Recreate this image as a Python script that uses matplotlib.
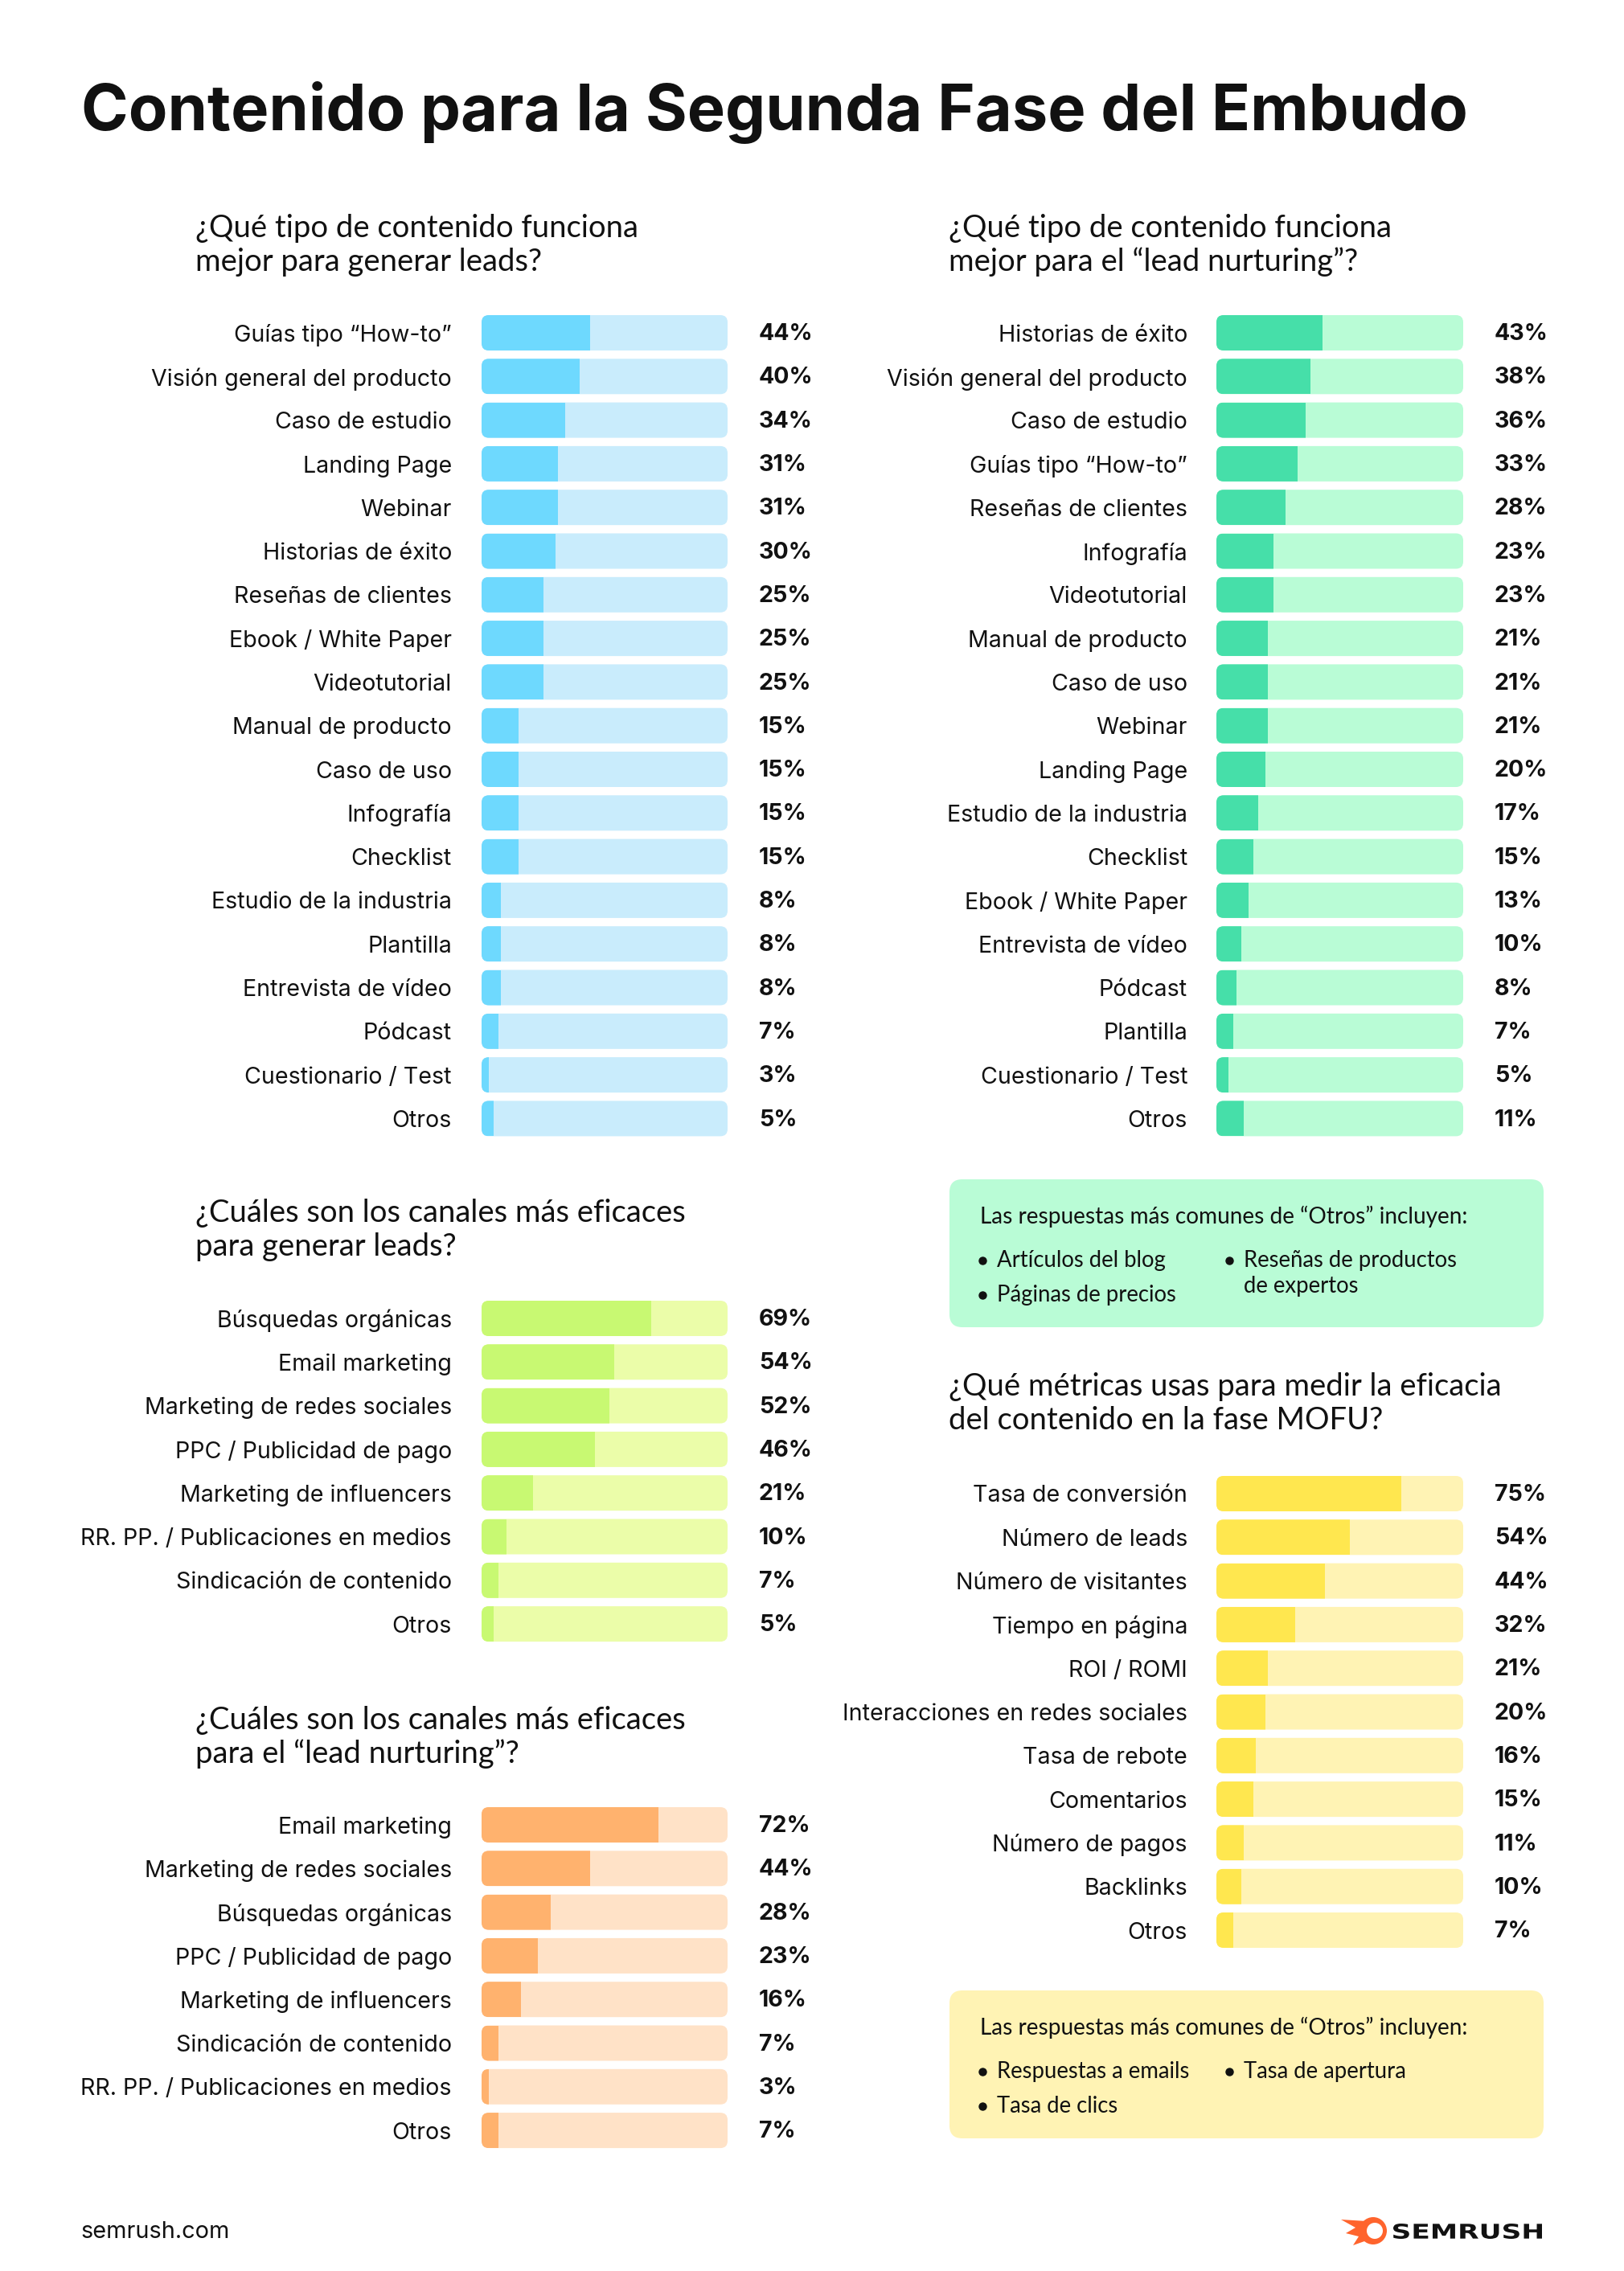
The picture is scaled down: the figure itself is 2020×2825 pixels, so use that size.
import matplotlib
matplotlib.use('Agg')
import matplotlib.pyplot as plt
from matplotlib.patches import FancyBboxPatch, Circle, Polygon, PathPatch
from matplotlib.textpath import TextPath
from matplotlib.font_manager import FontProperties
from matplotlib.transforms import Affine2D

# ── DATA ──────────────────────────────────────────────────────────────────────
content_leads_labels = ["Guías tipo “How-to”", "Visión general del producto", "Caso de estudio",
                        "Landing Page", "Webinar", "Historias de éxito", "Reseñas de clientes",
                        "Ebook / White Paper", "Videotutorial", "Manual de producto", "Caso de uso",
                        "Infografía", "Checklist", "Estudio de la industria", "Plantilla",
                        "Entrevista de vídeo", "Pódcast", "Cuestionario / Test", "Otros"]
content_leads_values = [44, 40, 34, 31, 31, 30, 25, 25, 25, 15, 15, 15, 15, 8, 8, 8, 7, 3, 5]

content_nurt_labels = ["Historias de éxito", "Visión general del producto", "Caso de estudio",
                       "Guías tipo “How-to”", "Reseñas de clientes", "Infografía", "Videotutorial",
                       "Manual de producto", "Caso de uso", "Webinar", "Landing Page",
                       "Estudio de la industria", "Checklist", "Ebook / White Paper",
                       "Entrevista de vídeo", "Pódcast", "Plantilla", "Cuestionario / Test", "Otros"]
content_nurt_values = [43, 38, 36, 33, 28, 23, 23, 21, 21, 21, 20, 17, 15, 13, 10, 8, 7, 5, 11]

channels_leads_labels = ["Búsquedas orgánicas", "Email marketing", "Marketing de redes sociales",
                         "PPC / Publicidad de pago", "Marketing de influencers",
                         "RR. PP. / Publicaciones en medios", "Sindicación de contenido", "Otros"]
channels_leads_values = [69, 54, 52, 46, 21, 10, 7, 5]

channels_nurt_labels = ["Email marketing", "Marketing de redes sociales", "Búsquedas orgánicas",
                        "PPC / Publicidad de pago", "Marketing de influencers",
                        "Sindicación de contenido", "RR. PP. / Publicaciones en medios", "Otros"]
channels_nurt_values = [72, 44, 28, 23, 16, 7, 3, 7]

metrics_labels = ["Tasa de conversión", "Número de leads", "Número de visitantes", "Tiempo en página",
                  "ROI / ROMI", "Interacciones en redes sociales", "Tasa de rebote", "Comentarios",
                  "Número de pagos", "Backlinks", "Otros"]
metrics_values = [75, 54, 44, 32, 21, 20, 16, 15, 11, 10, 7]

notes_content = ["Artículos del blog", "Páginas de precios", "Reseñas de productos\nde expertos"]
notes_metrics = ["Respuestas a emails", "Tasa de clics", "Tasa de apertura"]

# ── STYLE ─────────────────────────────────────────────────────────────────────
W, H = 2020, 2825
PITCH = 54.3          # px between rows
BAR_PX = 44           # bar thickness in px
RAD_PX = 9            # corner radius in px
INK = "#111111"
LBL_FS = 20.6
SANS = ["Inter", "DejaVu Sans"]
HEAD = ["Lato", "DejaVu Sans"]

BLUE = ("#6ED9FE", "#C9ECFC")
GREEN = ("#46DFA9", "#B9FCD6")
LIME = ("#C8F972", "#EBFDA9")
ORANGE = ("#FFB26E", "#FFE2C7")
YELLOW = ("#FFE74F", "#FFF3B4")

fig = plt.figure(figsize=(W / 100, H / 100), dpi=100)
fig.patch.set_facecolor("white")

# full-page overlay in pixel coordinates for titles, notes and footer
bg = fig.add_axes([0, 0, 1, 1], zorder=0)
bg.set_xlim(0, W)
bg.set_ylim(H, 0)
bg.axis("off")


def panel(x0, x1, y_first, labels, values, colors, label_right):
    n = len(labels)
    top = y_first - PITCH / 2
    bottom = y_first + PITCH * (n - 1) + PITCH / 2
    ax = fig.add_axes([x0 / W, 1 - bottom / H, (x1 - x0) / W, (bottom - top) / H], zorder=2)
    ax.set_xlim(0, 100)
    ax.set_ylim(n - 0.5, -0.5)
    ax.patch.set_alpha(0)
    for s in ax.spines.values():
        s.set_visible(False)
    ax.set_xticks([])
    ax.set_yticks(range(n))
    ax.set_yticklabels(labels, fontsize=LBL_FS, color=INK, family=SANS)
    ax.tick_params(axis="y", length=0, pad=(x0 - label_right) * 0.72)

    pxx = (x1 - x0) / 100.0
    bh = BAR_PX / PITCH
    fill, track = colors
    for i, v in enumerate(values):
        box = FancyBboxPatch((0, i - bh / 2), 100, bh,
                             boxstyle=f"round,pad=0,rounding_size={RAD_PX / pxx}",
                             mutation_aspect=pxx / PITCH, fc=track, ec="none")
        ax.add_patch(box)
        bar = ax.barh(i, v, height=bh, color=fill, edgecolor="none")[0]
        bar.set_clip_path(box)
        ax.annotate(f"{v}%", xy=(100, i), xytext=(28, -1.2), textcoords="offset points",
                    ha="left", va="center", fontsize=LBL_FS, fontweight="bold",
                    color=INK, family=SANS)
    return ax


def subtitle(x, y_mid, text):
    bg.text(x, y_mid, text, ha="left", va="center", fontsize=27.5, color=INK,
            family=HEAD, linespacing=1.2)


def notes_box(y0, y1, color, items):
    box = FancyBboxPatch((1181, y0), 739, y1 - y0, boxstyle="round,pad=0,rounding_size=16",
                         fc=color, ec="none")
    bg.add_patch(box)
    bg.text(1219, y0 + 46, "Las respuestas más comunes de “Otros” incluyen:", ha="left",
            va="center", fontsize=20.2, color=INK, family=HEAD)
    spots = [(1222, y0 + 101), (1222, y0 + 144), (1529, y0 + 101)]
    for (bx, by), item in zip(spots, items):
        bg.plot(bx, by, "o", ms=6.5, color=INK)
        for k, line in enumerate(item.split("\n")):
            bg.text(bx + 18, by + 32 * k, line, ha="left", va="center", fontsize=19.8,
                    color=INK, family=HEAD)


# ── TITLE & SUBTITLES ─────────────────────────────────────────────────────────
bg.text(101, 140, "Contenido para la Segunda Fase del Embudo", ha="left", va="center",
        fontsize=57.2, fontweight="bold", color=INK, family=SANS)

subtitle(243, 305, "¿Qué tipo de contenido funciona\nmejor para generar leads?")
subtitle(1180, 305, "¿Qué tipo de contenido funciona\nmejor para el “lead nurturing”?")
subtitle(243, 1530, "¿Cuáles son los canales más eficaces\npara generar leads?")
subtitle(243, 2161, "¿Cuáles son los canales más eficaces\npara el “lead nurturing”?")
subtitle(1180, 1746, "¿Qué métricas usas para medir la eficacia\ndel contenido en la fase MOFU?")

# ── BAR PANELS ────────────────────────────────────────────────────────────────
panel(599, 905, 414, content_leads_labels, content_leads_values, BLUE, 562)
panel(1513, 1820, 414, content_nurt_labels, content_nurt_values, GREEN, 1477)
panel(599, 905, 1640, channels_leads_labels, channels_leads_values, LIME, 562)
panel(599, 905, 2270, channels_nurt_labels, channels_nurt_values, ORANGE, 562)
panel(1513, 1820, 1858, metrics_labels, metrics_values, YELLOW, 1477)

# ── NOTES ─────────────────────────────────────────────────────────────────────
notes_box(1467, 1651, GREEN[1], notes_content)
notes_box(2476, 2660, YELLOW[1], notes_metrics)

# ── FOOTER ────────────────────────────────────────────────────────────────────
bg.text(100, 2777, "semrush.com", ha="left", va="center", fontsize=20.8, color=INK, family=SANS)

orange = "#FF642D"
bg.add_patch(Polygon([(1668, 2761), (1700, 2763), (1700, 2787), (1683, 2793),
                      (1690, 2782), (1674, 2778), (1686, 2771)], closed=True, fc=orange, ec="none"))
bg.add_patch(Circle((1708, 2775), 17, fc=orange, ec="none"))
bg.add_patch(Circle((1710, 2775), 10, fc="white", ec="none"))
tp = TextPath((0, 0), "SEMRUSH", size=100, prop=FontProperties(family="DejaVu Sans", weight="bold"))
ext = tp.get_extents()
sx = (1918 - 1733) / ext.width
sy = 19 / ext.height
tr = Affine2D().translate(-ext.x0, -ext.y0).scale(sx, -sy).translate(1733, 2785)
bg.add_patch(PathPatch(tr.transform_path(tp), fc=INK, ec="none"))

fig.savefig("out.png", dpi=100, facecolor="white")
